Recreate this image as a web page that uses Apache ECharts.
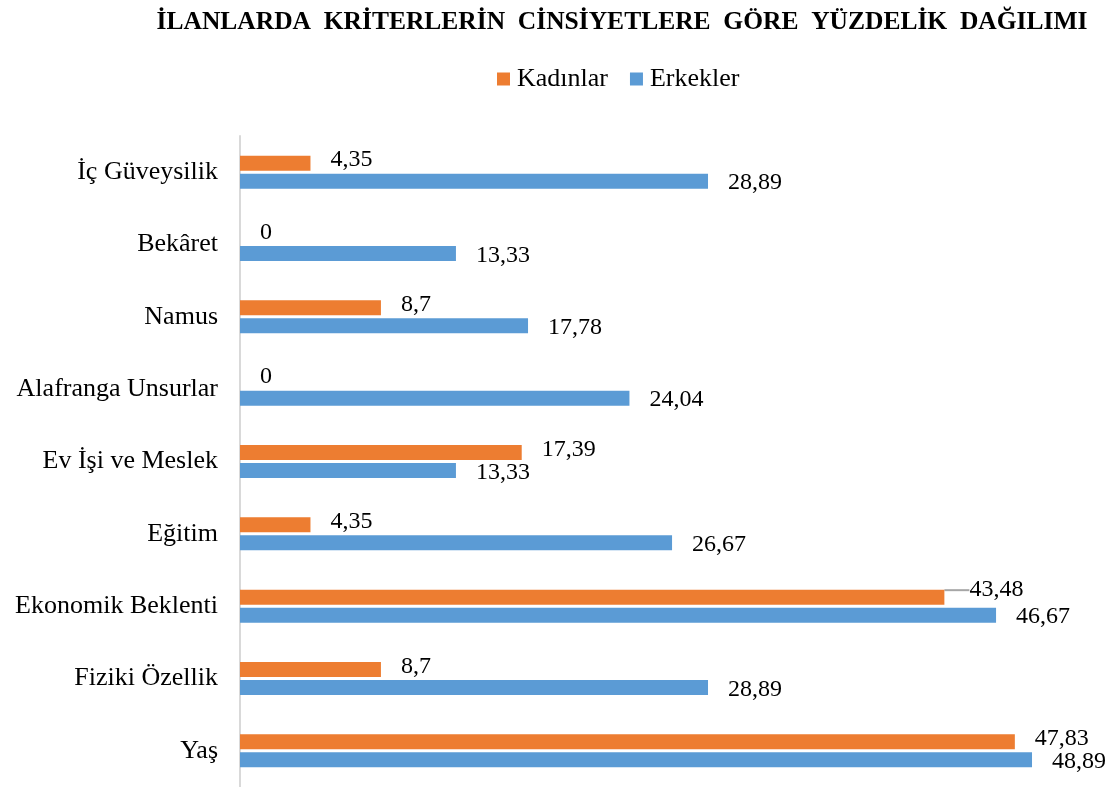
<!DOCTYPE html>
<html>
<head>
<meta charset="utf-8">
<script src="https://cdn.jsdelivr.net/npm/echarts@6/dist/echarts.min.js"></script>
<style>
    html, body { margin: 0; padding: 0; background: #fff; }
    #main { width: 1111px; height: 787px; }
</style>
</head>
<body>
<div id="main"></div>
<script>
// kategoriler alttan üste
var categories = ['Yaş', 'Fiziki Özellik', 'Ekonomik Beklenti', 'Eğitim', 'Ev İşi ve Meslek',
    'Alafranga Unsurlar', 'Namus', 'Bekâret', 'İç Güveysilik'];
var kadinlar = [47.83, 8.7, 43.48, 4.35, 17.39, 0, 8.7, 0, 4.35];
var erkekler = [48.89, 28.89, 46.67, 26.67, 13.33, 24.04, 17.78, 13.33, 28.89];

var serif = '"Liberation Serif", "Times New Roman", serif';

function virgul(p) {
    return String(p.value).replace('.', ',');
}

// Ekonomik Beklenti etiketi kaydırılmış, yanında kılavuz çizgisi var
var kadinData = kadinlar.map(function (v, i) {
    if (i === 2) {
        return { value: v, labelLine: { show: true } };
    }
    return v;
});

var mchart = echarts.init(document.getElementById('main'));
var option = {
    animation: false,
    title: {
        text: 'İLANLARDA  KRİTERLERİN  CİNSİYETLERE  GÖRE  YÜZDELİK  DAĞILIMI',
        left: 617,
        textAlign: 'center',
        top: 4,
        textStyle: {
            fontFamily: serif,
            fontSize: 25.5,
            fontWeight: 'bold',
            color: '#000'
        }
    },
    legend: {       //göstergeler
        data: ['Kadınlar', 'Erkekler'],
        left: 492,
        top: 61,
        itemWidth: 13,
        itemHeight: 13,
        itemGap: 22,
        icon: 'rect',
        textStyle: {
            fontFamily: serif,
            fontSize: 26,
            color: '#000',
            padding: [0, 0, 0, 2]
        }
    },
    grid: {
        left: 240,
        top: 136,
        width: 810,
        height: 658,
        containLabel: false
    },
    xAxis: {
        type: 'value',
        min: 0,
        max: 50,
        show: false
    },
    yAxis: {
        type: 'category',
        data: categories,
        axisLine: { lineStyle: { color: '#D9D9D9', width: 2 } },
        axisTick: { show: false },
        axisLabel: {
            margin: 22,
            padding: [0, 0, 12, 0],
            fontFamily: serif,
            fontSize: 26,
            color: '#000'
        }
    },
    series: [
        {
            name: 'Kadınlar',
            type: 'bar',
            data: kadinData,
            barWidth: 15,
            barGap: '20%',
            itemStyle: { color: '#ED7D31' },
            label: {
                show: true,
                position: 'right',
                distance: 20,
                formatter: virgul,
                fontFamily: serif,
                fontSize: 24,
                color: '#000'
            },
            labelLayout: function (p) {
                if (p.dataIndex === 2) return { dx: 5, dy: -7 };
                return { dy: -3 };
            },
            labelLine: {
                show: false,
                lineStyle: { color: '#A6A6A6', width: 2 }
            }
        },
        {
            name: 'Erkekler',
            type: 'bar',
            data: erkekler,
            barWidth: 15,
            itemStyle: { color: '#5B9BD5' },
            label: {
                show: true,
                position: 'right',
                distance: 20,
                offset: [0, 2],
                formatter: virgul,
                fontFamily: serif,
                fontSize: 24,
                color: '#000'
            }
        }
    ]
};
mchart.setOption(option);
</script>
</body>
</html>
